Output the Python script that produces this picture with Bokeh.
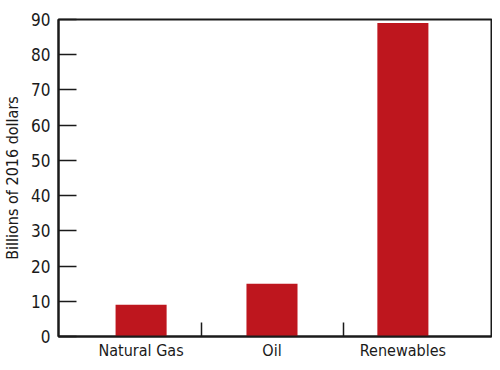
from bokeh.plotting import figure
from bokeh.models import FixedTicker, Range1d, ColumnDataSource
from bokeh.embed import file_html
from bokeh.resources import INLINE

categories = ["Natural Gas", "Oil", "Renewables"]
values = [9, 15, 89]
y_ticks = [0, 10, 20, 30, 40, 50, 60, 70, 80, 90]

FONT = "DejaVu Sans Condensed"

xs = list(range(len(categories)))
src = ColumnDataSource(dict(x=xs, top=values))

p = figure(width=492, height=362, output_backend="svg", toolbar_location=None,
           x_range=Range1d(-0.631, 2.677), y_range=Range1d(0, 90),
           min_border_left=58, min_border_right=1, min_border_top=19, min_border_bottom=26)

p.vbar(x="x", top="top", width=0.39, source=src, fill_color="#BE161E", line_color=None)

p.xgrid.visible = False
p.ygrid.visible = False
p.outline_line_color = "#1a1a1a"
p.outline_line_width = 2
p.outline_line_alpha = 1

xa = p.xaxis[0]
xa.ticker = FixedTicker(ticks=xs, minor_ticks=[0.464, 1.544])
xa.major_label_overrides = {i: c for i, c in zip(xs, categories)}
xa.major_tick_in = 0
xa.major_tick_out = 0
xa.minor_tick_in = 14
xa.minor_tick_out = 0
xa.minor_tick_line_color = "#1a1a1a"
xa.minor_tick_line_width = 1.5
xa.axis_line_color = "#1a1a1a"
xa.axis_line_width = 2
xa.major_label_text_font = FONT
xa.major_label_text_font_size = "16px"
xa.major_label_text_color = "#1a1a1a"
xa.major_label_standoff = 4

ya = p.yaxis[0]
ya.ticker = FixedTicker(ticks=y_ticks)
ya.major_tick_in = 18
ya.major_tick_out = 0
ya.major_tick_line_color = "#1a1a1a"
ya.major_tick_line_width = 1.5
ya.minor_tick_line_color = None
ya.axis_line_color = "#1a1a1a"
ya.axis_line_width = 2
ya.major_label_text_font = FONT
ya.major_label_text_font_size = "17px"
ya.major_label_text_color = "#1a1a1a"
ya.major_label_standoff = 8
ya.axis_label = "Billions of 2016 dollars"
ya.axis_label_text_font = FONT
ya.axis_label_text_font_size = "16px"
ya.axis_label_text_font_style = "normal"
ya.axis_label_text_color = "#1a1a1a"
ya.axis_label_standoff = 6

open("out.html", "w").write(file_html(p, INLINE))
